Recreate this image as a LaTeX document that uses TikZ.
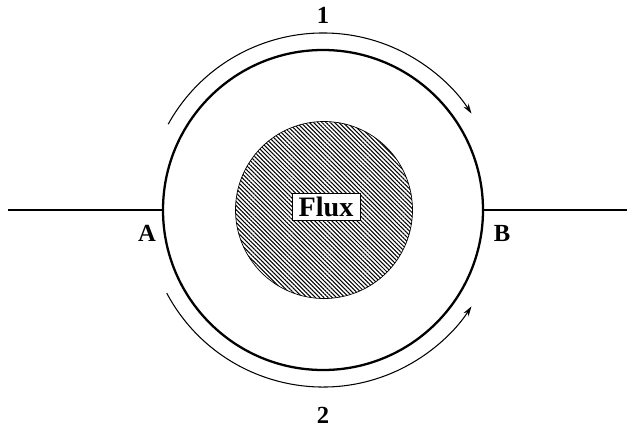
\documentclass[tikz,border=0pt]{standalone}
\usepackage{fontspec}
\setmainfont{Liberation Serif}
\usetikzlibrary{arrows.meta,patterns.meta,positioning}

\begin{document}
\begin{tikzpicture}[
  x=0.2mm,y=0.2mm,
  ring/.style={draw,circle,line width=1.3pt,minimum size=64mm,inner sep=0pt},
  fluxdisk/.style={draw,circle,line width=0.4pt,minimum size=35.4mm,inner sep=0pt,pattern={Lines[angle=-45,distance=1.7pt,line width=0.6pt]}},
  fluxbox/.style={draw,fill=white,line width=0.5pt,minimum width=13.6mm,minimum height=5.4mm,inner sep=1pt,font=\fontsize{16}{18}\selectfont\bfseries},
  lbl/.style={font=\fontsize{14}{16}\selectfont\bfseries,inner sep=0pt},
  wire/.style={line width=0.9pt},
  flow/.style={line width=0.6pt,-{Stealth[length=2mm,width=1.2mm]}}
]
\useasboundingbox (0,0) rectangle (627,430);

\node[ring] (ring) at (323,220) {};
\node[fluxdisk] (disk) at (324,220) {};
\node[fluxbox] (flux) at (326,223) {Flux};

\coordinate (wl) at (8,220);
\coordinate (wr) at (627,220);
\draw[wire] (wl) -- (ring.west);
\draw[wire] (ring.east) -- (wr);

\node[lbl] (a) at (147,197) {A};
\node[lbl] (b) at (502,197) {B};

% the two ways round the ring
\draw[flow] (ring.center) ++(151:177) arc[start angle=151,end angle=33,radius=177];
\draw[flow] (ring.center) ++(208:177) arc[start angle=208,end angle=327,radius=177];

\node[lbl] (one) at (ring.center |- 0,415) {1};
\node[lbl] (two) at (ring.center |- 0,15) {2};
\end{tikzpicture}
\end{document}
